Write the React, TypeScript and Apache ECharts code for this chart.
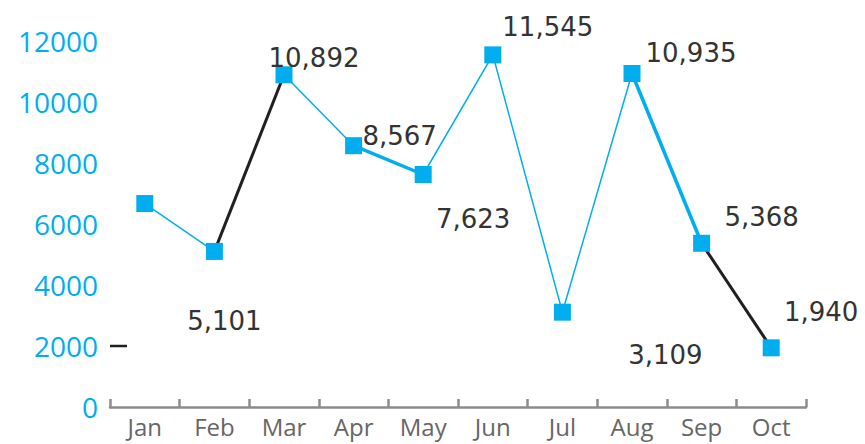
import React, { useEffect, useRef } from "react";
import * as echarts from "echarts";

const categories = ["Jan", "Feb", "Mar", "Apr", "May", "Jun", "Jul", "Aug", "Sep", "Oct"];
const values = [6670, 5101, 10892, 8567, 7623, 11545, 3109, 10935, 5368, 1940];
const yTicks = { min: 0, max: 12000, interval: 2000 };
const dashLevel = 2000;

// styles (not data)
const BLUE = "#00AEEF";
const BLACK = "#231F20";
const segColors = [BLUE, BLACK, BLUE, BLUE, BLUE, BLUE, BLUE, BLUE, BLACK];
const segWidths = [1.5, 3, 1.5, 3.5, 1.5, 1.5, 1.5, 3.5, 3];
const labelOffsets: ([number, number] | null)[] = [
  null, [10, 70], [30, -17], [46, -10], [50, 45], [55, -28], [103, 43], [59, -20], [60, -26], [50, -36],
];

const FONT = "Open Sans";
const LABEL_FONT = "DejaVu Sans";

export default function App() {
  const ref = useRef<HTMLDivElement>(null);
  useEffect(() => {
    if (!ref.current) return;
    const chart = echarts.init(ref.current, undefined, { renderer: "svg" });

    const segSeries = values.slice(0, -1).map((_, i) => ({
      type: "line",
      data: values.map((v, j) => (j === i || j === i + 1 ? v : null)),
      showSymbol: false,
      symbol: "none",
      connectNulls: false,
      lineStyle: { color: segColors[i], width: segWidths[i] },
      silent: true,
      z: 2,
    }));

    const pointSeries = {
      type: "line",
      data: values.map((v, i) => {
        const off = labelOffsets[i];
        return {
          value: v,
          label: off
            ? {
                show: true,
                position: "inside",
                offset: off,
                formatter: (p: any) => Number(p.value).toLocaleString("en-US"),
              }
            : { show: false },
        };
      }),
      symbol: "rect",
      symbolSize: 17,
      itemStyle: { color: BLUE },
      lineStyle: { width: 0, opacity: 0 },
      label: {
        color: "#333333",
        fontSize: 26,
        fontFamily: LABEL_FONT,
        align: "center",
        verticalAlign: "middle",
      },
      z: 5,
    };

    chart.setOption({
      animation: false,
      grid: { left: 110, right: 59, top: 41, bottom: 37 },
      xAxis: {
        type: "category",
        data: categories,
        boundaryGap: true,
        axisLine: { lineStyle: { color: "#8C8C8C", width: 2.5 } },
        axisTick: { show: true, inside: true, length: 8, lineStyle: { color: "#8C8C8C", width: 2.5 } },
        axisLabel: { color: "#666666", fontSize: 24, lineHeight: 24, fontFamily: FONT, margin: 7 },
        splitLine: { show: false },
      },
      yAxis: {
        type: "value",
        min: yTicks.min,
        max: yTicks.max,
        interval: yTicks.interval,
        axisLine: { show: false },
        axisTick: { show: false },
        splitLine: { show: false },
        axisLabel: {
          color: BLUE,
          fontSize: 28,
          fontFamily: FONT,
          margin: 12,
          formatter: (v: number) => String(v),
        },
      },
      series: [...segSeries, pointSeries],
    });

    const y = chart.convertToPixel({ yAxisIndex: 0 }, dashLevel) as number;
    chart.setOption({
      graphic: [
        {
          type: "line",
          shape: { x1: 110, y1: y, x2: 127, y2: y },
          style: { stroke: BLACK, lineWidth: 2.5 },
        },
      ],
    });

    return () => chart.dispose();
  }, []);
  return (
    <div
      ref={ref}
      style={{ position: "fixed", left: 0, top: 0, width: 865, height: 444, background: "#fff" }}
    />
  );
}
